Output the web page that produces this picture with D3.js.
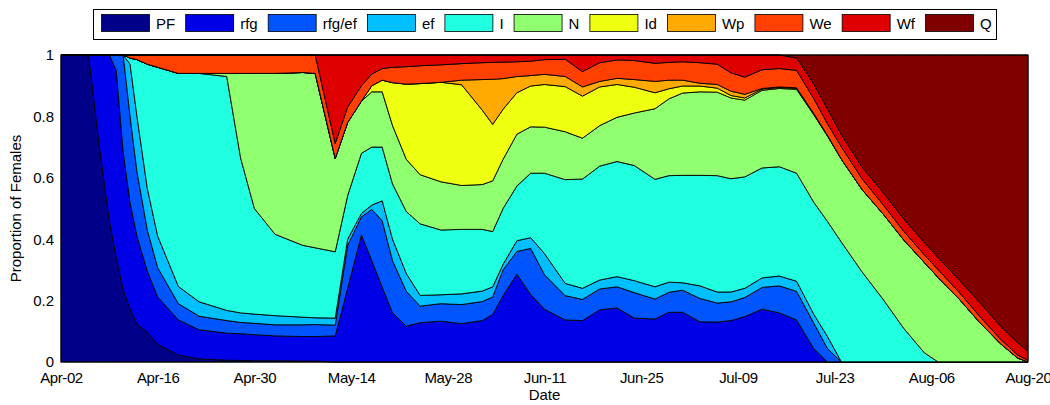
<!DOCTYPE html>
<html>
<head>
<meta charset="utf-8">
<script src="https://cdn.jsdelivr.net/npm/d3@7"></script>
<style>
  body { margin: 0; background: #fff; }
  svg text { font-family: "Liberation Sans", Arial, sans-serif; }
</style>
</head>
<body>
<div class="chart"></div>
<script>

// days after Apr-02 where the proportions were sampled
var days = [0, 4, 5.5, 7, 8, 9, 10, 11, 12.5, 14, 17, 20, 24, 26, 28, 31, 35, 36.8, 39.7, 41.5,
    43.5, 45, 46.5, 48, 50, 52, 55, 58, 61, 62.5, 64, 66, 68, 70, 73, 75.5, 78, 80.5, 83, 86,
    88, 90, 92.5, 95, 97, 99, 101.5, 104, 106.5, 109, 111, 113, 116, 119, 122, 125, 127, 130, 133, 136,
    138.5, 140];

var stages = ["PF", "rfg", "rfg/ef", "ef", "I", "N", "Id", "Wp", "We", "Wf", "Q"];
var colors = ["#000088", "#0000e6", "#0055ff", "#00bfff", "#20ffdf", "#90ff70", "#efff10", "#ffaa00", "#ff4000", "#df0000", "#800000"];

var tickDays = [0, 14, 28, 42, 56, 70, 84, 98, 112, 126, 140];
var tickLabels = ["Apr-02", "Apr-16", "Apr-30", "May-14", "May-28", "Jun-11", "Jun-25", "Jul-09", "Jul-23", "Aug-06", "Aug-20"];
var yTicks = [0, 0.2, 0.4, 0.6, 0.8, 1];

var PF = [1, 1, 0.71, 0.46, 0.34, 0.235, 0.173, 0.124, 0.097, 0.058, 0.022, 0.01, 0.006, 0.005, 0.004, 0.004, 0.003, 0.003, 0, 0,
    0, 0, 0, 0, 0, 0, 0, 0, 0, 0, 0, 0, 0, 0, 0, 0, 0, 0, 0, 0,
    0, 0, 0, 0, 0, 0, 0, 0, 0, 0, 0, 0, 0, 0, 0, 0, 0, 0, 0, 0,
    0, 0];
var rfg = [0, 0, 0.29, 0.54, 0.61, 0.45, 0.347, 0.286, 0.199, 0.154, 0.115, 0.095, 0.088, 0.087, 0.085, 0.081, 0.08, 0.08, 0.085, 0.24,
    0.414, 0.33, 0.244, 0.16, 0.117, 0.128, 0.133, 0.125, 0.135, 0.155, 0.216, 0.286, 0.22, 0.172, 0.137, 0.135, 0.17, 0.176, 0.143, 0.14,
    0.162, 0.162, 0.131, 0.13, 0.135, 0.148, 0.172, 0.16, 0.137, 0.043, 0, 0, 0, 0, 0, 0, 0, 0, 0, 0,
    0, 0];
var rfgEf = [0, 0, 0, 0, 0.05, 0.315, 0.28, 0.21, 0.134, 0.095, 0.053, 0.044, 0.041, 0.037, 0.037, 0.036, 0.038, 0.039, 0.035, 0.14,
    0.059, 0.167, 0.216, 0.17, 0.113, 0.054, 0.057, 0.062, 0.062, 0.057, 0.084, 0.074, 0.15, 0.112, 0.079, 0.069, 0.068, 0.069, 0.083, 0.065,
    0.065, 0.072, 0.076, 0.062, 0.061, 0.062, 0.071, 0.088, 0.093, 0.083, 0.043, 0, 0, 0, 0, 0, 0, 0, 0, 0,
    0, 0];
var ef = [0, 0, 0, 0, 0, 0, 0.17, 0.18, 0.135, 0.103, 0.056, 0.047, 0.033, 0.031, 0.03, 0.03, 0.025, 0.022, 0.023, 0.02,
    0.011, 0.014, 0.065, 0.07, 0.058, 0.035, 0.029, 0.035, 0.034, 0.033, 0.018, 0.035, 0.035, 0.069, 0.04, 0.036, 0.029, 0.033, 0.039, 0.04,
    0.033, 0.024, 0.041, 0.036, 0.032, 0.03, 0.031, 0.032, 0.033, 0.029, 0.039, 0, 0, 0, 0, 0, 0, 0, 0, 0,
    0, 0];
var I = [0, 0, 0, 0, 0, 0, 0.02, 0.185, 0.405, 0.55, 0.694, 0.744, 0.762, 0.505, 0.344, 0.265, 0.234, 0.228, 0.216, 0.142,
    0.196, 0.189, 0.175, 0.18, 0.202, 0.233, 0.211, 0.21, 0.201, 0.18, 0.182, 0.178, 0.21, 0.262, 0.338, 0.356, 0.371, 0.375, 0.375, 0.35,
    0.347, 0.35, 0.36, 0.379, 0.369, 0.363, 0.358, 0.356, 0.352, 0.365, 0.375, 0.39, 0.293, 0.205, 0.11, 0.03, 0, 0, 0, 0,
    0, 0];
var N = [0, 0, 0, 0, 0, 0, 0, 0, 0, 0, 0, 0, 0.01, 0.275, 0.44, 0.524, 0.563, 0.568, 0.304, 0.238,
    0.17, 0.18, 0.18, 0.19, 0.17, 0.16, 0.157, 0.143, 0.146, 0.165, 0.16, 0.169, 0.151, 0.15, 0.156, 0.133, 0.132, 0.144, 0.171, 0.23,
    0.25, 0.268, 0.272, 0.272, 0.263, 0.25, 0.253, 0.255, 0.273, 0.285, 0.278, 0.27, 0.268, 0.278, 0.288, 0.294, 0.275, 0.206, 0.129, 0.06,
    0.013, 0];
var Id = [0, 0, 0, 0, 0, 0, 0, 0, 0, 0, 0, 0, 0, 0, 0, 0, 0, 0, 0, 0,
    0, 0.02, 0.038, 0.14, 0.245, 0.297, 0.324, 0.328, 0.242, 0.184, 0.163, 0.135, 0.133, 0.139, 0.147, 0.137, 0.126, 0.107, 0.084, 0.052,
    0.033, 0.023, 0.019, 0.013, 0.008, 0.007, 0.004, 0.003, 0.003, 0.002, 0.001, 0, 0, 0, 0, 0, 0, 0, 0, 0,
    0, 0];
var Wp = [0, 0, 0, 0, 0, 0, 0, 0, 0, 0, 0, 0, 0, 0, 0, 0, 0, 0, 0, 0,
    0, 0, 0, 0, 0, 0, 0, 0.015, 0.1, 0.147, 0.1, 0.053, 0.034, 0.033, 0.033, 0.03, 0.018, 0.02, 0.025, 0.037,
    0.028, 0.019, 0.009, 0.012, 0.014, 0.012, 0.002, 0.002, 0.002, 0.002, 0.001, 0, 0, 0, 0, 0, 0, 0, 0, 0,
    0, 0];
var We = [0, 0, 0, 0, 0, 0, 0.01, 0.015, 0.03, 0.04, 0.06, 0.06, 0.06, 0.06, 0.06, 0.06, 0.057, 0.06, 0.049, 0.05,
    0.05, 0.038, 0.038, 0.05, 0.057, 0.058, 0.057, 0.054, 0.055, 0.055, 0.054, 0.048, 0.047, 0.048, 0.056, 0.05, 0.061, 0.06, 0.062, 0.059,
    0.058, 0.06, 0.067, 0.066, 0.06, 0.056, 0.061, 0.06, 0.057, 0.048, 0.038, 0.04, 0.035, 0.03, 0.028, 0.025, 0.025, 0.022, 0.02, 0.015,
    0.01, 0.005];
var Wf = [0, 0, 0, 0, 0, 0, 0, 0, 0, 0, 0, 0, 0, 0, 0, 0, 0, 0, 0.288, 0.17,
    0.1, 0.062, 0.044, 0.04, 0.038, 0.035, 0.032, 0.028, 0.025, 0.024, 0.023, 0.022, 0.02, 0.015, 0.014, 0.054, 0.025, 0.016, 0.018, 0.027,
    0.024, 0.022, 0.025, 0.03, 0.058, 0.072, 0.048, 0.044, 0.04, 0.048, 0.048, 0.04, 0.038, 0.04, 0.04, 0.04, 0.04, 0.04, 0.045, 0.042,
    0.04, 0.03];
var Q = [0, 0, 0, 0, 0, 0, 0, 0, 0, 0, 0, 0, 0, 0, 0, 0, 0, 0, 0, 0,
    0, 0, 0, 0, 0, 0, 0, 0, 0, 0, 0, 0, 0, 0, 0, 0, 0, 0, 0, 0,
    0, 0, 0, 0, 0, 0, 0, 0, 0.01, 0.095, 0.177, 0.26, 0.366, 0.447, 0.534, 0.611, 0.66, 0.732, 0.806, 0.883,
    0.937, 0.965];

var series = [PF, rfg, rfgEf, ef, I, N, Id, Wp, We, Wf, Q];

var width = 1050, height = 405;
var margin = {left: 61, right: 22, top: 55, bottom: 43};

var svg = d3.select(".chart")
    .append("svg")
    .attr("width", width)
    .attr("height", height);

var x = d3.scaleLinear()
    .domain([0, 140])
    .range([margin.left, width - margin.right]);

var y = d3.scaleLinear()
    .domain([0, 1])
    .range([height - margin.bottom, margin.top]);

// one row per sampled day
var rows = days.map(function (d, i) {
    var row = {day: d};
    stages.forEach(function (s, k) { row[s] = series[k][i]; });
    return row;
});

var stack = d3.stack()
    .keys(stages)
    .offset(d3.stackOffsetExpand);

var layers = stack(rows);

var area = d3.area()
    .x(function (d) { return x(d.data.day); })
    .y0(function (d) { return y(d[0]); })
    .y1(function (d) { return y(d[1]); });

svg.append("g")
    .selectAll("path")
    .data(layers)
    .enter().append("path")
    .attr("d", area)
    .style("fill", function (d, i) { return colors[i]; })
    .style("stroke", "#000")
    .style("stroke-width", 0.9)
    .style("stroke-linejoin", "round");

// axes
var xAxis = d3.axisBottom(x)
    .tickValues(tickDays)
    .tickFormat(function (d, i) { return tickLabels[i]; })
    .tickSize(0)
    .tickPadding(10);

var yAxis = d3.axisLeft(y)
    .tickValues(yTicks)
    .tickFormat(function (d) { return d === 0 || d === 1 ? d : d.toFixed(1); })
    .tickSize(0)
    .tickPadding(7);

var gx = svg.append("g")
    .attr("transform", "translate(0," + y(0) + ")")
    .call(xAxis);

var gy = svg.append("g")
    .attr("transform", "translate(" + x(0) + ",0)")
    .call(yAxis);

[gx, gy].forEach(function (g) {
    g.selectAll("text").style("font-size", "15px").style("fill", "#000");
    g.select(".domain").remove();
});
gx.selectAll("text").style("letter-spacing", "-0.4px");

// axes box
svg.append("rect")
    .attr("x", x(0))
    .attr("y", y(1))
    .attr("width", x(140) - x(0))
    .attr("height", y(0) - y(1))
    .style("fill", "none")
    .style("stroke", "#000")
    .style("stroke-width", 1);

svg.append("text")
    .attr("x", (x(0) + x(140)) / 2)
    .attr("y", 400)
    .attr("text-anchor", "middle")
    .style("font-size", "15px")
    .text("Date");

svg.append("text")
    .attr("transform", "translate(21," + (y(0) + y(1)) / 2 + ") rotate(-90)")
    .attr("text-anchor", "middle")
    .style("font-size", "15px")
    .text("Proportion of Females");

// legend
var legend = svg.append("g");

legend.append("rect")
    .attr("x", 93.5)
    .attr("y", 9.5)
    .attr("width", 903)
    .attr("height", 30)
    .style("fill", "#fff")
    .style("stroke", "#000")
    .style("stroke-width", 1);

var lx = 101;
stages.forEach(function (s, i) {
    legend.append("rect")
        .attr("x", lx + 0.5)
        .attr("y", 14.5)
        .attr("width", 48)
        .attr("height", 17)
        .style("fill", colors[i])
        .style("stroke", "#000")
        .style("stroke-width", 0.8);
    var t = legend.append("text")
        .attr("x", lx + 55)
        .attr("y", 29)
        .style("font-size", "15px")
        .text(s);
    lx = lx + 55 + t.node().getComputedTextLength() + 10;
});

</script>
</body>
</html>
